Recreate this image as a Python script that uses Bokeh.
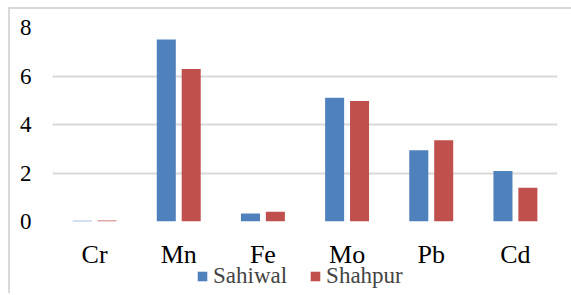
from bokeh.plotting import figure
from bokeh.layouts import column
from bokeh.models import ColumnDataSource, Range1d, FactorRange, Legend, LegendItem, FixedTicker
from bokeh.transform import dodge
from bokeh.embed import file_html
from bokeh.resources import INLINE

metals = ["Cr", "Mn", "Fe", "Mo", "Pb", "Cd"]
sahiwal = [0.03, 7.51, 0.33, 5.1, 2.94, 2.08]
shahpur = [0.04, 6.29, 0.4, 4.97, 3.35, 1.39]
y_ticks = [0, 2, 4, 6, 8]
series = ["Sahiwal", "Shahpur"]
colors = ["#4F81BD", "#C0504D"]

src = ColumnDataSource(dict(metal=metals, sahiwal=sahiwal, shahpur=shahpur))

p = figure(width=561, height=262, x_range=FactorRange(*metals), y_range=Range1d(0, 8),
           output_backend="svg", toolbar_location=None,
           min_border_left=42, min_border_right=14, min_border_top=18, min_border_bottom=48)

p.vbar(x=dodge("metal", -0.148, range=p.x_range), top="sahiwal", width=0.226, source=src,
       fill_color=colors[0], line_color=None)
p.vbar(x=dodge("metal", 0.148, range=p.x_range), top="shahpur", width=0.226, source=src,
       fill_color=colors[1], line_color=None)

p.outline_line_color = None
p.xgrid.grid_line_color = None
p.ygrid.grid_line_color = "#D9D9D9"
p.ygrid.grid_line_width = 2
p.yaxis.ticker = FixedTicker(ticks=y_ticks)
for ax in (p.xaxis[0], p.yaxis[0]):
    ax.axis_line_color = None
    ax.major_tick_line_color = None
    ax.minor_tick_line_color = None
    ax.major_label_text_font = "Liberation Serif"
    ax.major_label_text_color = "#000000"
p.yaxis.major_label_text_font_size = "23px"
p.yaxis.major_label_standoff = 15
p.xaxis.major_label_text_font_size = "26px"
p.xaxis.major_label_standoff = 12

# legend strip (renderers draw nothing visible: bars lie below its y-range)
p2 = figure(width=561, height=38, output_backend="svg", toolbar_location=None,
            x_range=FactorRange(*metals), y_range=Range1d(100, 101),
            x_axis_location=None, y_axis_location=None,
            min_border_left=0, min_border_right=0, min_border_top=0, min_border_bottom=0)
p2.outline_line_color = None
p2.grid.grid_line_color = None
p2.background_fill_alpha = 0
p2.border_fill_alpha = 0
items = []
for name, col, c in zip(series, ["sahiwal", "shahpur"], colors):
    r = p2.vbar(x="metal", top=col, width=0.2, source=src, fill_color=c, line_color=None)
    items.append(LegendItem(label=name, renderers=[r]))
legend = Legend(items=items, orientation="horizontal", location=(144, 4),
                label_text_font="Liberation Serif", label_text_font_size="23px",
                glyph_width=12, glyph_height=12, spacing=22, padding=0, margin=0,
                label_standoff=5, border_line_color=None, background_fill_alpha=0)
p2.add_layout(legend, "center")
p2.styles = {"margin-top": "-16px"}

layout = column(p, p2, spacing=0)
layout.styles = {"border-top": "2px solid #D9D9D9", "border-left": "2px solid #D9D9D9",
                 "margin-top": "7px", "margin-left": "8px"}

open("out.html", "w").write(file_html(layout, INLINE))
